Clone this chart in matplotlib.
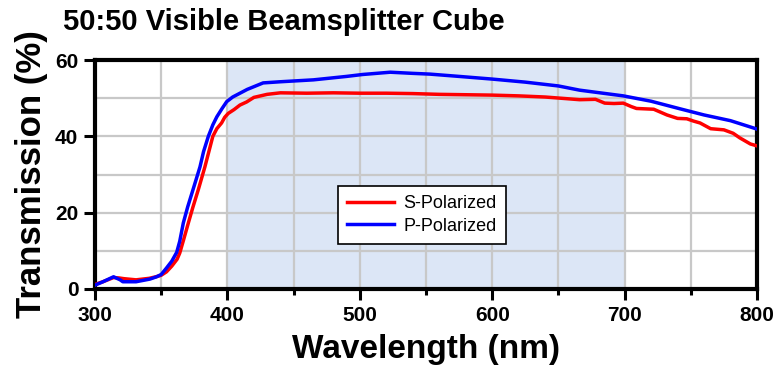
import matplotlib
matplotlib.use('Agg')
import matplotlib.pyplot as plt
import numpy as np
from matplotlib import font_manager


# S-polarized transmission
wl_s = [300, 306, 314, 318, 322, 331, 341, 346, 350, 354, 358, 362, 364,
        367, 370.5, 374, 378, 383, 386, 389, 392, 395.6, 398, 400.6, 405,
        409.5, 414.5, 420, 430, 440, 460, 480, 500, 520, 540, 560, 580,
        600, 620, 640, 655, 666, 678, 685, 692, 699, 705, 709, 722, 728,
        732, 740, 747, 752, 757, 765, 775, 782, 787, 795, 800]
s_pol = [1.2, 1.9, 3.0, 2.9, 2.7, 2.4, 2.8, 3.2, 3.6, 4.5, 6.0, 7.8, 9.4,
         13.0, 17.3, 21.5, 26.0, 32.0, 36.0, 40.0, 42.0, 43.5, 45.0, 46.0, 47.0,
         48.2, 49.0, 50.2, 51.0, 51.4, 51.3, 51.4, 51.3, 51.3, 51.2, 51.0, 50.9,
         50.8, 50.6, 50.3, 49.9, 49.6, 49.7, 48.7, 48.6, 48.7, 47.8, 47.3, 47.1, 46.2,
         45.6, 44.7, 44.6, 44.0, 43.5, 42.0, 41.7, 40.8, 39.6, 38.0, 37.5]

# P-polarized transmission
wl_p = [300, 306, 314, 319, 321, 331, 341.5, 346.5, 350, 354, 358, 361.7,
        364, 366.7, 370, 374, 379.3, 382, 385.6, 389, 392, 396, 399.5, 404,
        409.5, 415, 427, 440, 465, 490, 502, 523, 540, 553, 575, 600, 625,
        650, 666, 699, 720, 742, 760, 780, 800]
p_pol = [1.0, 1.9, 3.2, 2.4, 1.9, 1.9, 2.6, 3.2, 3.8, 5.5, 7.3, 9.6,
         12.5, 17.3, 21.5, 26.0, 32.0, 36.0, 40.0, 43.0, 45.1, 47.3, 49.1, 50.3,
         51.3, 52.3, 54.0, 54.3, 54.8, 55.7, 56.2, 56.8, 56.5, 56.3, 55.7, 55.0, 54.2,
         53.2, 52.1, 50.6, 49.2, 47.2, 45.6, 44.1, 41.9]

band = [400, 700]

names = {f.name for f in font_manager.fontManager.ttflist}
font = 'Liberation Sans' if 'Liberation Sans' in names else 'DejaVu Sans'

plt.rcParams['font.family'] = font

fig = plt.figure(figsize=(7.8, 3.7), dpi=100)
ax = fig.add_axes([95 / 780, 1 - 289 / 370, 662 / 780, 229 / 370])

ax.axvspan(band[0], band[1], color='#dce6f6', zorder=0, lw=0)
ax.plot(wl_s, s_pol, color='#ff0000', lw=2.5, label='S-Polarized', zorder=3)
ax.plot(wl_p, p_pol, color='#0000ff', lw=2.5, label='P-Polarized', zorder=4)

ax.set_xlim(300, 800)
ax.set_ylim(0, 60)
ax.set_xticks(np.arange(300, 801, 100))
ax.set_xticks(np.arange(350, 800, 100), minor=True)
ax.set_yticks(np.arange(0, 61, 20))
ax.set_yticks(np.arange(10, 60, 20), minor=True)
ax.grid(True, which='both', color='#c8c8c8', lw=1.6, zorder=1)
ax.set_axisbelow(True)

for s in ax.spines.values():
    s.set_linewidth(3)
ax.tick_params(which='major', direction='out', length=8, width=2.2,
               labelsize=15, pad=4)
ax.tick_params(which='minor', direction='out', length=4.5, width=2.2)
ax.tick_params(axis='y', which='minor', length=0)
for lab in ax.get_xticklabels() + ax.get_yticklabels():
    lab.set_fontweight('bold')

ax.set_xlabel('Wavelength (nm)', fontsize=24, fontweight='bold', labelpad=7)
ax.set_ylabel('Transmission (%)', fontsize=25, fontweight='bold', labelpad=5)

fig.text(284 / 780, 1 - 22 / 370, '50:50 Visible Beamsplitter Cube',
         ha='center', va='center', fontsize=21, fontweight='bold')

leg = ax.legend(loc='center', bbox_to_anchor=(0.494, 0.323), fontsize=13,
                fancybox=False, framealpha=1, edgecolor='black',
                handlelength=2.6, handletextpad=0.5, borderpad=0.5,
                labelspacing=0.3, borderaxespad=0)
leg.get_frame().set_linewidth(1.2)

fig.savefig('out.png', dpi=100)
